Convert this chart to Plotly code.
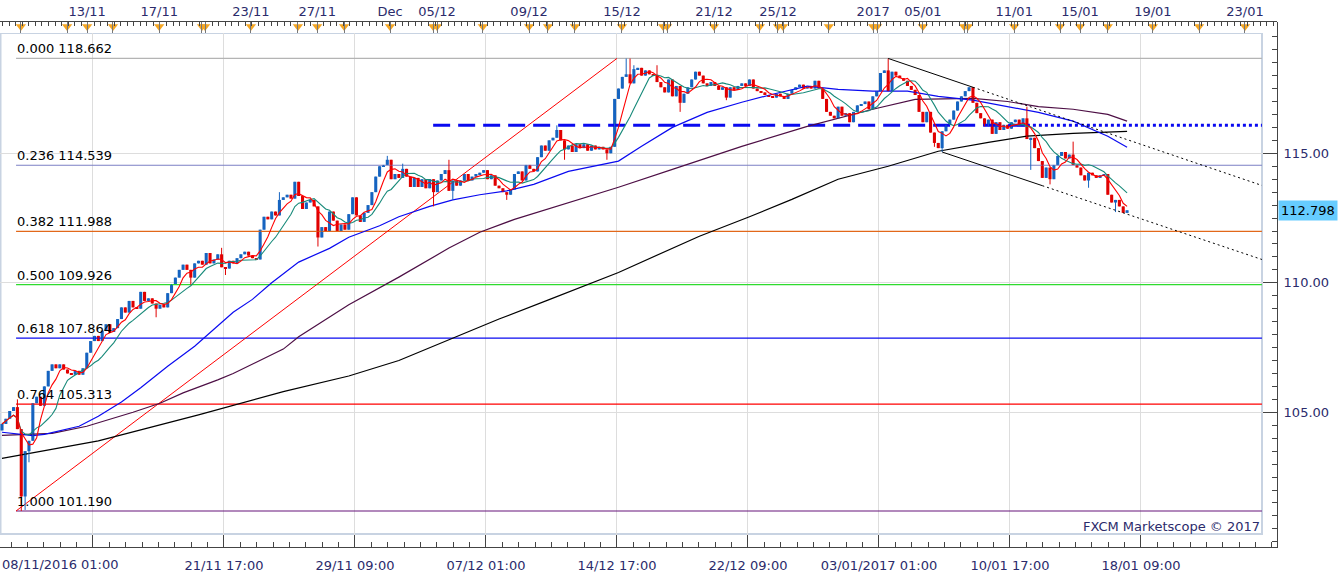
import plotly.graph_objects as go
import pandas as pd

W, H = 1343, 577

# ---------------- data: USD/JPY 4h candles ----------------
first_open = 104.30
closes = [
    104.55, 104.75, 105.05, 105.20, 104.35, 101.75, 103.50, 103.90, 105.35, 105.60,
    105.25, 106.00, 106.60, 106.85, 106.70, 106.85, 106.65, 106.50, 106.45, 106.60,
    106.45, 106.70, 107.30, 107.75, 107.95, 107.75, 108.15, 108.40, 108.10, 108.25,
    108.60, 109.05, 108.85, 109.30, 109.05, 109.00, 109.65, 109.30, 109.40, 109.20,
    109.00, 109.15, 109.05, 109.60, 109.95, 110.20, 110.50, 110.70, 110.50, 110.20,
    110.75, 110.85, 110.70, 111.15, 110.75, 110.90, 111.10, 110.60, 110.55, 110.85,
    110.75, 110.95, 111.10, 111.20, 111.05, 110.95, 110.90, 112.05, 112.55, 112.45,
    112.75, 112.60, 113.20, 113.30, 113.40, 113.25, 113.90, 113.35, 112.85, 113.10,
    113.20, 112.95, 111.75, 112.15, 112.00, 112.75, 112.40, 112.00, 112.25, 112.05,
    112.65, 113.30, 112.60, 112.35, 112.70, 113.00, 113.50, 114.10, 114.50, 114.55,
    114.75, 114.00, 114.20, 114.05, 114.40, 114.10, 113.70, 114.05, 113.70, 114.00,
    113.65, 114.00, 113.50, 113.95, 114.20, 114.35, 113.55, 113.95, 113.75, 113.95,
    114.20, 113.95, 114.10, 114.20, 114.25, 114.35, 114.00, 114.15, 113.75, 113.65,
    113.50, 113.40, 113.60, 114.20, 114.30, 113.95, 114.55, 114.40, 114.30, 114.85,
    115.30, 115.10, 115.50, 115.60, 115.90, 115.50, 115.15, 115.30, 115.05, 115.35,
    115.20, 115.35, 115.10, 115.30, 115.15, 115.25, 115.15, 115.00, 115.25, 117.10,
    117.50, 117.95, 118.05, 117.70, 118.25, 118.30, 118.00, 118.20, 118.05, 118.00,
    117.75, 117.55, 117.35, 117.85, 117.20, 117.60, 116.95, 117.30, 117.55, 117.85,
    118.15, 118.00, 117.70, 117.60, 117.75, 117.60, 117.45, 117.55, 117.15, 117.55,
    117.45, 117.60, 117.70, 117.60, 117.85, 117.50, 117.40, 117.35, 117.25, 117.20,
    117.15, 117.30, 117.20, 117.10, 117.30, 117.45, 117.55, 117.65, 117.50, 117.60,
    117.50, 117.80, 117.50, 117.10, 116.60, 116.45, 116.35, 116.80, 116.45, 116.55,
    116.20, 116.60, 116.85, 116.90, 117.00, 116.70, 117.20, 117.40, 118.10, 118.20,
    117.40, 118.15, 118.00, 117.90, 117.80, 117.60, 117.45, 117.25, 116.60, 116.20,
    116.60, 115.80, 115.40, 115.20, 115.85, 116.10, 116.30, 116.65, 117.00, 117.20,
    117.40, 117.55, 116.95, 116.55, 116.35, 116.05, 116.30, 115.75, 116.20, 115.90,
    116.10, 115.95, 116.20, 116.30, 116.10, 116.35, 115.55, 115.60, 115.20, 114.70,
    114.05, 114.45, 114.00, 114.55, 114.90, 115.05, 114.80, 114.95, 114.55, 114.45,
    114.15, 113.95, 114.25, 114.15, 114.05, 114.15, 114.20, 113.40, 113.10, 113.20,
    112.95, 112.70, 112.80,
]
wick_highs = {4: 105.50, 57: 111.35, 72: 113.50, 100: 114.90, 104: 114.60, 116: 114.75,
              144: 116.08, 162: 118.66, 163: 118.66, 164: 118.40, 170: 118.40,
              230: 118.66, 266: 116.80, 278: 115.45}
wick_lows = {5: 101.19, 6: 101.23, 7: 103.07, 40: 108.67, 49: 109.93, 58: 110.30,
             82: 111.40, 112: 112.95, 117: 113.20, 131: 113.20, 146: 114.75, 157: 114.75,
             176: 116.60, 188: 117.05, 242: 115.25, 244: 115.05, 267: 114.36,
             272: 113.80, 282: 113.67, 289: 112.73}

# slow moving averages (candle index, price)
ma_blue_idx = [0, 8, 11, 20, 25, 31, 36, 43, 50, 55, 60, 65, 70, 77, 85, 90, 98, 103, 111,
               117, 124, 131, 138, 147, 160, 166, 174, 183, 192, 200, 209, 217, 226, 235,
               243, 252, 261, 269, 278, 287, 292]
ma_blue_val = [104.23, 104.10, 104.15, 104.46, 104.85, 105.40, 105.95, 106.78, 107.55, 108.20,
               108.86, 109.36, 110.00, 110.80, 111.33, 111.76, 112.20, 112.55, 112.95, 113.20,
               113.40, 113.55, 113.80, 114.30, 114.70, 115.27, 116.00, 116.58, 116.97, 117.28,
               117.59, 117.47, 117.40, 117.40, 117.20, 117.05, 116.80, 116.58, 116.24, 115.66,
               115.23]
ma_purple_idx = [0, 13, 22, 34, 41, 47, 56, 60, 73, 77, 90, 103, 116, 124, 133, 147, 160,
                 174, 192, 209, 226, 237, 243, 252, 261, 269, 278, 287, 292]
ma_purple_val = [104.11, 104.19, 104.46, 105.00, 105.35, 105.75, 106.25, 106.50, 107.44,
                 107.92, 109.15, 110.22, 111.34, 111.95, 112.45, 113.10, 113.69, 114.38,
                 115.27, 116.04, 116.70, 117.08, 117.10, 117.12, 117.00, 116.80, 116.70,
                 116.50, 116.24]
ma_black_idx = [0, 25, 38, 51, 73, 90, 103, 116, 129, 142, 160, 181, 194, 205, 217, 230,
                243, 256, 266, 278, 292]
ma_black_val = [103.22, 103.90, 104.40, 104.90, 105.80, 106.40, 107.00, 107.80, 108.60,
                109.35, 110.40, 111.80, 112.55, 113.22, 114.00, 114.50, 115.08, 115.42,
                115.66, 115.77, 115.85]

# drawings
fib_ratios = [0.000, 0.236, 0.382, 0.500, 0.618, 0.764, 1.000]
fib_levels = [118.662, 114.539, 111.988, 109.926, 107.864, 105.313, 101.190]
fib_colors = ['#B4B4B4', '#7B7FC4', '#E2681A', '#2EDB2E', '#0A0AF0', '#FF0000', '#66157A']
fib_start = 3.65
chart_end = 327.0
fib_trend_x = [3.65, 159.6]
fib_trend_y = [101.190, 118.662]
level_price = 116.08
level_dash_x = [111.9, 266.0]
level_dot_x = [266.0, 327.0]
upper_trend_x = [230, 252]
upper_trend_y = [118.662, 117.55]
lower_trend_x = [244, 270]
lower_trend_y = [115.05, 113.75]
last_price = 112.798

# axes labels
bottom_tick_idx = [23.6, 57.6, 91.6, 125.6, 159.6, 193.6, 227.6, 261.6, 295.6]
bottom_tick_txt = ['', '21/11 17:00', '29/11 09:00', '07/12 01:00', '14/12 17:00',
                   '22/12 09:00', '03/01/2017 01:00', '10/01 17:00', '18/01 09:00']
first_date_label = '08/11/2016 01:00'
event_idx = [4.9, 16.9, 22.1, 28.8, 40.8, 51.9, 52.7, 64.6, 76.8, 81.8, 88.8, 100.7, 111.9,
             112.9, 124.8, 136.8, 141.7, 148.7, 160.9, 171.6, 172.6, 184.8, 196.7, 201.4,
             202.7, 214.6, 226.1, 227.1, 239.0, 249.7, 250.7, 262.7, 274.6, 279.8, 287.0,
             298.7, 310.7, 322.6]
top_labels = {22.1: '13/11', 40.8: '17/11', 64.6: '23/11', 81.8: '27/11', 100.7: 'Dec',
              112.9: '05/12', 136.8: '09/12', 160.9: '15/12', 184.8: '21/12', 201.4: '25/12',
              226.1: '2017', 239.0: '05/01', 262.7: '11/01', 279.8: '15/01', 298.7: '19/01',
              322.6: '23/01'}

# ---------------- derived ----------------
n = len(closes)
idx = list(range(n))
opens = [first_open] + closes[:-1]
highs = [wick_highs.get(i, max(opens[i], closes[i])) for i in idx]
lows = [wick_lows.get(i, min(opens[i], closes[i])) for i in idx]
fast_ma = pd.Series(closes).rolling(5, min_periods=1).mean().tolist()
mid_ma = pd.Series(closes).rolling(10, min_periods=1).mean().tolist()

BLUE_C = '#1664C0'
RED_C = '#E00000'
NAVY = '#2B2B6B'
FONT = 'DejaVu Sans'

# pixel geometry of plot area
PX_L, PX_R, PX_T, PX_B = 0, 1277, 22, 547
FR_R, FR_T, FR_B = 1262, 33, 534
X_RANGE = [-2 / 3.853, (PX_R - 2) / 3.853]
Y_RANGE = [115 - (PX_B - 153.3) / 25.9, 115 + (153.3 - PX_T) / 25.9]

fig = go.Figure()


def line(x, y, color, width=1, dash=None):
    fig.add_trace(go.Scatter(x=x, y=y, mode='lines', hoverinfo='skip', showlegend=False,
                             line=dict(color=color, width=width, dash=dash)))


# fibonacci levels
for lvl, col in zip(fib_levels, fib_colors):
    line([fib_start, chart_end], [lvl, lvl], col, 1.2)
line(fib_trend_x, fib_trend_y, '#FF0000', 1)

# blue horizontal level
line(level_dash_x, [level_price] * 2, '#0A0AF0', 3, '17px,8px')
line(level_dot_x, [level_price] * 2, '#0A0AF0', 3, '3px,3px')

# slow MAs
line(ma_black_idx, ma_black_val, '#000000', 1.2)
line(ma_purple_idx, ma_purple_val, '#4D0F45', 1.2)
line(ma_blue_idx, ma_blue_val, '#0A0AF0', 1.2)

# candles
for up, col in ((True, BLUE_C), (False, RED_C)):
    sel = [i for i in idx if (closes[i] >= opens[i]) == up]
    wx, wy = [], []
    for i in sel:
        wx += [i, i, None]
        wy += [lows[i], highs[i], None]
    fig.add_trace(go.Scatter(x=wx, y=wy, mode='lines', hoverinfo='skip', showlegend=False,
                             line=dict(color=col, width=1)))
    fig.add_trace(go.Bar(x=sel,
                         base=[min(opens[i], closes[i]) for i in sel],
                         y=[max(abs(closes[i] - opens[i]), 0.04) for i in sel],
                         width=0.8, marker=dict(color=col, line=dict(width=0)),
                         hoverinfo='skip', showlegend=False))

# fast MAs
line(idx, mid_ma, '#188A7A', 1.1)
line(idx, fast_ma, '#FF0000', 1.1)

# trend lines
for xs, ys in ((upper_trend_x, upper_trend_y), (lower_trend_x, lower_trend_y)):
    slope = (ys[1] - ys[0]) / (xs[1] - xs[0])
    end_y = ys[1] + slope * (chart_end - xs[1])
    line(xs, ys, '#000000', 1)
    line([xs[1], chart_end], [ys[1], end_y], '#000000', 1, '2px,3px')

# event markers on top strip
fig.add_trace(go.Scatter(x=event_idx, y=[0.6] * len(event_idx), mode='markers',
                         xaxis='x2', yaxis='y3', hoverinfo='skip', showlegend=False,
                         marker=dict(symbol='triangle-down', size=9, color='#F5A623',
                                     line=dict(width=0))))

fx = lambda px: px / W
fy = lambda py: (H - py) / H

shapes = [
    # white strips between frame and axis lines
    dict(type='rect', xref='paper', yref='paper', x0=fx(FR_R + 1), x1=fx(PX_R), y0=fy(PX_B),
         y1=fy(PX_T), fillcolor='white', line=dict(width=0), layer='between'),
    dict(type='rect', xref='paper', yref='paper', x0=fx(PX_L), x1=fx(PX_R), y0=fy(FR_T),
         y1=fy(PX_T), fillcolor='white', line=dict(width=0), layer='between'),
    dict(type='rect', xref='paper', yref='paper', x0=fx(PX_L), x1=fx(PX_R), y0=fy(PX_B),
         y1=fy(FR_B + 1), fillcolor='white', line=dict(width=0), layer='between'),
    # inner frame
    dict(type='rect', xref='paper', yref='paper', x0=fx(0.5), x1=fx(FR_R), y0=fy(FR_B),
         y1=fy(FR_T), line=dict(color='#C8D3E2', width=2), fillcolor='rgba(0,0,0,0)',
         layer='between'),
]

annotations = []
for r, lvl in zip(fib_ratios, fib_levels):
    annotations.append(dict(x=fib_start, y=lvl, xref='x', yref='y', xanchor='left',
                            yanchor='bottom', showarrow=False, text=f'{r:.3f} {lvl:.3f}',
                            font=dict(family=FONT, size=13, color='#000000'),
                            borderpad=0, yshift=1))
annotations += [
    dict(x=0, y=fy(564.5), xref='paper', yref='paper', xanchor='left', yanchor='middle',
         showarrow=False, text=first_date_label, font=dict(family=FONT, size=13, color=NAVY)),
    dict(x=fx(FR_R), y=fy(526), xref='paper', yref='paper', xanchor='right', yanchor='middle',
         showarrow=False, text='FXCM Marketscope © 2017',
         font=dict(family=FONT, size=13, color=NAVY)),
    dict(x=fx(1278), y=last_price, xref='paper', yref='y', xanchor='left', yanchor='middle',
         showarrow=False, text=f'{last_price:.3f}', bgcolor='#66CCFF', borderpad=2,
         font=dict(family=FONT, size=13, color='#000000')),
]

fig.update_layout(
    template='none',
    width=W, height=H, margin=dict(l=0, r=0, t=0, b=0, autoexpand=False),
    paper_bgcolor='white', plot_bgcolor='white', barmode='overlay', showlegend=False,
    font=dict(family=FONT, size=13, color=NAVY),
    xaxis=dict(domain=[0, fx(PX_R)], range=X_RANGE, fixedrange=True, zeroline=False,
               automargin=False,
               tickmode='array', tickvals=bottom_tick_idx, ticktext=bottom_tick_txt,
               ticks='inside', ticklen=12, tickcolor='#444444', tickwidth=1,
               showline=True, linecolor='#444444', linewidth=1,
               showgrid=True, gridcolor='#DDDDDD', gridwidth=1,
               tickfont=dict(family=FONT, size=13, color=NAVY), ticklabelstandoff=6,
               minor=dict(tickmode='linear', tick0=bottom_tick_idx[0], dtick=4.25,
                          ticks='inside', ticklen=5, tickcolor='#444444', showgrid=False)),
    xaxis2=dict(overlaying='x', side='top', range=X_RANGE, fixedrange=True, zeroline=False,
                automargin=False,
                tickmode='array', tickvals=event_idx,
                ticktext=[top_labels.get(v, '') for v in event_idx],
                ticks='inside', ticklen=11, tickcolor='#777777', showgrid=False,
                showline=True, linecolor='#444444', linewidth=1,
                tickfont=dict(family=FONT, size=13, color=NAVY),
                minor=dict(tickmode='linear', tick0=0.18, dtick=1.7, ticks='inside',
                           ticklen=4, tickcolor='#444444', showgrid=False)),
    yaxis=dict(domain=[fy(PX_B), fy(PX_T)], range=Y_RANGE, side='right', fixedrange=True,
               automargin=False,
               zeroline=False, tickmode='array', tickvals=[105, 110, 115],
               ticktext=['105.00', '110.00', '115.00'], ticks='inside', ticklen=14,
               tickcolor='#444444', showline=True, linecolor='#444444', linewidth=1,
               showgrid=True, gridcolor='#DDDDDD', gridwidth=1,
               tickfont=dict(family=FONT, size=13, color=NAVY), ticklabelstandoff=3,
               minor=dict(tickmode='linear', tick0=100, dtick=0.5, ticks='inside',
                          ticklen=5, tickcolor='#444444', showgrid=False)),
    yaxis3=dict(domain=[fy(PX_T + 11), fy(PX_T)], range=[0, 1], visible=False,
                anchor='x2', fixedrange=True, automargin=False),
    shapes=shapes, annotations=annotations,
)

fig.write_html('out.html', config={'displayModeBar': False},
               post_script="document.body.style.margin='0';"
                           "document.body.style.overflow='hidden';")
